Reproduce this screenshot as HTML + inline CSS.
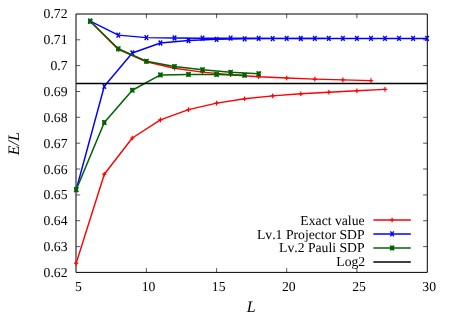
<!DOCTYPE html>
<html><head><meta charset="utf-8"><style>
html,body{margin:0;padding:0;background:#fff;}
svg{display:block;will-change:transform;opacity:0.999}
text{text-rendering:geometricPrecision;font-kerning:none}
.t{font-family:"Liberation Serif",serif;font-size:13.7px;fill:#000}
.i{font-style:italic;font-size:16px}
</style></head><body>
<svg width="452" height="317" viewBox="0 0 452 317">
<rect width="452" height="317" fill="#fff"/>
<path d="M76.2,246.6h4M427.1,246.6h-4" stroke="#000" stroke-width="0.66"/>
<path d="M76.2,220.7h4M427.1,220.7h-4" stroke="#000" stroke-width="0.66"/>
<path d="M76.2,194.9h4M427.1,194.9h-4" stroke="#000" stroke-width="0.66"/>
<path d="M76.2,169.0h4M427.1,169.0h-4" stroke="#000" stroke-width="0.66"/>
<path d="M76.2,143.2h4M427.1,143.2h-4" stroke="#000" stroke-width="0.66"/>
<path d="M76.2,117.3h4M427.1,117.3h-4" stroke="#000" stroke-width="0.66"/>
<path d="M76.2,91.5h4M427.1,91.5h-4" stroke="#000" stroke-width="0.66"/>
<path d="M76.2,65.6h4M427.1,65.6h-4" stroke="#000" stroke-width="0.66"/>
<path d="M76.2,39.8h4M427.1,39.8h-4" stroke="#000" stroke-width="0.66"/>
<path d="M146.4,272.4v-4.3M146.4,13.95v4.3" stroke="#000" stroke-width="0.66"/>
<path d="M216.6,272.4v-4.3M216.6,13.95v4.3" stroke="#000" stroke-width="0.66"/>
<path d="M286.7,272.4v-4.3M286.7,13.95v4.3" stroke="#000" stroke-width="0.66"/>
<path d="M356.9,272.4v-4.3M356.9,13.95v4.3" stroke="#000" stroke-width="0.66"/>
<path d="M76.0,14.0H427.3V272.4H76.0Z" fill="none" stroke="#000" stroke-width="1"/>
<polyline points="76.2,263.1 104.3,174.2 132.3,138.0 160.4,119.9 188.5,109.6 216.6,103.1 244.6,98.7 272.7,95.9 300.8,93.8 328.8,92.3 356.9,90.7 385.0,89.4" fill="none" stroke="#ff0000" stroke-width="1.45" stroke-linejoin="round"/>
<path d="M74.0,263.1H78.4M76.2,260.8V265.4" stroke="#ff0000" stroke-width="1.2"/><path d="M102.1,174.2H106.5M104.3,171.9V176.5" stroke="#ff0000" stroke-width="1.2"/><path d="M130.1,138.0H134.5M132.3,135.7V140.3" stroke="#ff0000" stroke-width="1.2"/><path d="M158.2,119.9H162.6M160.4,117.6V122.2" stroke="#ff0000" stroke-width="1.2"/><path d="M186.3,109.6H190.7M188.5,107.3V111.9" stroke="#ff0000" stroke-width="1.2"/><path d="M214.4,103.1H218.8M216.6,100.8V105.4" stroke="#ff0000" stroke-width="1.2"/><path d="M242.4,98.7H246.8M244.6,96.4V101.0" stroke="#ff0000" stroke-width="1.2"/><path d="M270.5,95.9H274.9M272.7,93.6V98.2" stroke="#ff0000" stroke-width="1.2"/><path d="M298.6,93.8H303.0M300.8,91.5V96.1" stroke="#ff0000" stroke-width="1.2"/><path d="M326.6,92.3H331.0M328.8,90.0V94.6" stroke="#ff0000" stroke-width="1.2"/><path d="M354.7,90.7H359.1M356.9,88.4V93.0" stroke="#ff0000" stroke-width="1.2"/><path d="M382.8,89.4H387.2M385.0,87.1V91.7" stroke="#ff0000" stroke-width="1.2"/>
<polyline points="90.2,21.2 118.3,49.4 146.4,61.8 174.5,68.2 202.5,72.1 230.6,74.7 258.7,76.8 286.7,78.0 314.8,79.1 342.9,79.9 371.0,80.6" fill="none" stroke="#ff0000" stroke-width="1.45" stroke-linejoin="round"/>
<path d="M88.0,21.2H92.4M90.2,18.9V23.5" stroke="#ff0000" stroke-width="1.2"/><path d="M116.1,49.4H120.5M118.3,47.1V51.7" stroke="#ff0000" stroke-width="1.2"/><path d="M144.2,61.8H148.6M146.4,59.5V64.1" stroke="#ff0000" stroke-width="1.2"/><path d="M172.3,68.2H176.7M174.5,65.9V70.5" stroke="#ff0000" stroke-width="1.2"/><path d="M200.3,72.1H204.7M202.5,69.8V74.4" stroke="#ff0000" stroke-width="1.2"/><path d="M228.4,74.7H232.8M230.6,72.4V77.0" stroke="#ff0000" stroke-width="1.2"/><path d="M256.5,76.8H260.9M258.7,74.5V79.1" stroke="#ff0000" stroke-width="1.2"/><path d="M284.5,78.0H288.9M286.7,75.7V80.3" stroke="#ff0000" stroke-width="1.2"/><path d="M312.6,79.1H317.0M314.8,76.8V81.4" stroke="#ff0000" stroke-width="1.2"/><path d="M340.7,79.9H345.1M342.9,77.6V82.2" stroke="#ff0000" stroke-width="1.2"/><path d="M368.8,80.6H373.2M371.0,78.3V82.9" stroke="#ff0000" stroke-width="1.2"/>
<polyline points="90.2,21.2 118.3,35.1 146.4,37.6 174.5,38.0 202.5,38.2 230.6,38.2 258.7,38.3 286.7,38.4 314.8,38.4 342.9,38.4 371.0,38.4 399.0,38.4 427.1,38.4" fill="none" stroke="#0000ff" stroke-width="1.45" stroke-linejoin="round"/>
<path d="M88.5,18.7L91.9,23.7M88.5,23.7L91.9,18.7" stroke="#0000ff" stroke-width="1.4"/><path d="M116.6,32.6L120.0,37.6M116.6,37.6L120.0,32.6" stroke="#0000ff" stroke-width="1.4"/><path d="M144.7,35.1L148.1,40.1M144.7,40.1L148.1,35.1" stroke="#0000ff" stroke-width="1.4"/><path d="M172.8,35.5L176.2,40.5M172.8,40.5L176.2,35.5" stroke="#0000ff" stroke-width="1.4"/><path d="M200.8,35.7L204.2,40.7M200.8,40.7L204.2,35.7" stroke="#0000ff" stroke-width="1.4"/><path d="M228.9,35.7L232.3,40.7M228.9,40.7L232.3,35.7" stroke="#0000ff" stroke-width="1.4"/><path d="M257.0,35.8L260.4,40.8M257.0,40.8L260.4,35.8" stroke="#0000ff" stroke-width="1.4"/><path d="M285.0,35.9L288.4,40.9M285.0,40.9L288.4,35.9" stroke="#0000ff" stroke-width="1.4"/><path d="M313.1,35.9L316.5,40.9M313.1,40.9L316.5,35.9" stroke="#0000ff" stroke-width="1.4"/><path d="M341.2,35.9L344.6,40.9M341.2,40.9L344.6,35.9" stroke="#0000ff" stroke-width="1.4"/><path d="M369.3,35.9L372.7,40.9M369.3,40.9L372.7,35.9" stroke="#0000ff" stroke-width="1.4"/><path d="M397.3,35.9L400.7,40.9M397.3,40.9L400.7,35.9" stroke="#0000ff" stroke-width="1.4"/><path d="M425.4,35.9L428.8,40.9M425.4,40.9L428.8,35.9" stroke="#0000ff" stroke-width="1.4"/>
<polyline points="76.2,189.7 104.3,86.3 132.3,53.0 160.4,43.0 188.5,40.5 216.6,39.3 244.6,38.9 272.7,38.6 300.8,38.5 328.8,38.4" fill="none" stroke="#0000ff" stroke-width="1.45" stroke-linejoin="round"/>
<path d="M74.5,187.2L77.9,192.2M74.5,192.2L77.9,187.2" stroke="#0000ff" stroke-width="1.4"/><path d="M102.6,83.8L106.0,88.8M102.6,88.8L106.0,83.8" stroke="#0000ff" stroke-width="1.4"/><path d="M130.6,50.5L134.0,55.5M130.6,55.5L134.0,50.5" stroke="#0000ff" stroke-width="1.4"/><path d="M158.7,40.5L162.1,45.5M158.7,45.5L162.1,40.5" stroke="#0000ff" stroke-width="1.4"/><path d="M186.8,38.0L190.2,43.0M186.8,43.0L190.2,38.0" stroke="#0000ff" stroke-width="1.4"/><path d="M214.9,36.8L218.3,41.8M214.9,41.8L218.3,36.8" stroke="#0000ff" stroke-width="1.4"/><path d="M242.9,36.4L246.3,41.4M242.9,41.4L246.3,36.4" stroke="#0000ff" stroke-width="1.4"/><path d="M271.0,36.1L274.4,41.1M271.0,41.1L274.4,36.1" stroke="#0000ff" stroke-width="1.4"/><path d="M299.1,36.0L302.5,41.0M299.1,41.0L302.5,36.0" stroke="#0000ff" stroke-width="1.4"/><path d="M327.1,35.9L330.5,40.9M327.1,40.9L330.5,35.9" stroke="#0000ff" stroke-width="1.4"/><path d="M355.2,35.9L358.6,40.9M355.2,40.9L358.6,35.9" stroke="#0000ff" stroke-width="1.4"/><path d="M383.3,35.9L386.7,40.9M383.3,40.9L386.7,35.9" stroke="#0000ff" stroke-width="1.4"/><path d="M411.4,35.9L414.8,40.9M411.4,40.9L414.8,35.9" stroke="#0000ff" stroke-width="1.4"/>
<polyline points="90.2,21.2 118.3,48.8 146.4,61.2 174.5,66.5 202.5,69.8 230.6,72.2 258.7,73.8" fill="none" stroke="#006400" stroke-width="1.55" stroke-linejoin="round"/>
<rect x="88.2" y="18.9" width="4.0" height="4.5" fill="#006400"/><rect x="116.3" y="46.6" width="4.0" height="4.5" fill="#006400"/><rect x="144.4" y="59.0" width="4.0" height="4.5" fill="#006400"/><rect x="172.5" y="64.3" width="4.0" height="4.5" fill="#006400"/><rect x="200.5" y="67.5" width="4.0" height="4.5" fill="#006400"/><rect x="228.6" y="70.0" width="4.0" height="4.5" fill="#006400"/><rect x="256.7" y="71.5" width="4.0" height="4.5" fill="#006400"/>
<path d="M88.1,18.8L92.3,23.6M88.1,23.6L92.3,18.8" stroke="#006400" stroke-width="1.2"/><path d="M116.2,46.4L120.4,51.2M116.2,51.2L120.4,46.4" stroke="#006400" stroke-width="1.2"/><path d="M144.3,58.8L148.5,63.6M144.3,63.6L148.5,58.8" stroke="#006400" stroke-width="1.2"/><path d="M172.4,64.1L176.6,68.9M172.4,68.9L176.6,64.1" stroke="#006400" stroke-width="1.2"/><path d="M200.4,67.4L204.6,72.2M200.4,72.2L204.6,67.4" stroke="#006400" stroke-width="1.2"/><path d="M228.5,69.8L232.7,74.6M228.5,74.6L232.7,69.8" stroke="#006400" stroke-width="1.2"/><path d="M256.6,71.4L260.8,76.2M256.6,76.2L260.8,71.4" stroke="#006400" stroke-width="1.2"/>
<polyline points="76.2,189.7 104.3,122.5 132.3,90.2 160.4,74.9 188.5,74.4 216.6,74.4 244.6,75.2" fill="none" stroke="#006400" stroke-width="1.55" stroke-linejoin="round"/>
<rect x="74.2" y="187.4" width="4.0" height="4.5" fill="#006400"/><rect x="102.3" y="120.2" width="4.0" height="4.5" fill="#006400"/><rect x="130.3" y="87.9" width="4.0" height="4.5" fill="#006400"/><rect x="158.4" y="72.7" width="4.0" height="4.5" fill="#006400"/><rect x="186.5" y="72.2" width="4.0" height="4.5" fill="#006400"/><rect x="214.6" y="72.2" width="4.0" height="4.5" fill="#006400"/><rect x="242.6" y="73.0" width="4.0" height="4.5" fill="#006400"/>
<path d="M74.1,187.3L78.3,192.1M74.1,192.1L78.3,187.3" stroke="#006400" stroke-width="1.2"/><path d="M102.2,120.1L106.4,124.9M102.2,124.9L106.4,120.1" stroke="#006400" stroke-width="1.2"/><path d="M130.2,87.8L134.4,92.6M130.2,92.6L134.4,87.8" stroke="#006400" stroke-width="1.2"/><path d="M158.3,72.5L162.5,77.3M158.3,77.3L162.5,72.5" stroke="#006400" stroke-width="1.2"/><path d="M186.4,72.0L190.6,76.8M186.4,76.8L190.6,72.0" stroke="#006400" stroke-width="1.2"/><path d="M214.5,72.0L218.7,76.8M214.5,76.8L218.7,72.0" stroke="#006400" stroke-width="1.2"/><path d="M242.5,72.8L246.7,77.6M242.5,77.6L246.7,72.8" stroke="#006400" stroke-width="1.2"/>
<path d="M76.2,83.5H427.1" stroke="#000" stroke-width="1.5"/>
<path d="M373.4,220.0H410.8" stroke="#ff0000" stroke-width="1.5"/>
<text x="364.6" y="224.7" text-anchor="end" class="t">Exact value</text>
<path d="M373.4,233.9H410.8" stroke="#0000ff" stroke-width="1.5"/>
<text x="364.6" y="238.6" text-anchor="end" class="t">Lv.1 Projector SDP</text>
<path d="M373.4,248.0H410.8" stroke="#006400" stroke-width="1.5"/>
<text x="364.6" y="252.4" text-anchor="end" class="t">Lv.2 Pauli SDP</text>
<path d="M373.4,261.9H410.8" stroke="#000" stroke-width="1.5"/>
<text x="365.2" y="266.3" text-anchor="end" class="t">Log2</text>
<path d="M389.9,220.0H394.3M392.1,217.7V222.3" stroke="#ff0000" stroke-width="1.2"/>
<path d="M390.4,231.4L393.8,236.4M390.4,236.4L393.8,231.4" stroke="#0000ff" stroke-width="1.4"/>
<rect x="390.1" y="245.7" width="4.0" height="4.5" fill="#006400"/><path d="M390.0,245.6L394.2,250.4M390.0,250.4L394.2,245.6" stroke="#006400" stroke-width="1.2"/>
<text x="67.5" y="276.9" text-anchor="end" class="t">0.62</text>
<text x="67.5" y="251.1" text-anchor="end" class="t">0.63</text>
<text x="67.5" y="225.2" text-anchor="end" class="t">0.64</text>
<text x="67.5" y="199.4" text-anchor="end" class="t">0.65</text>
<text x="67.5" y="173.5" text-anchor="end" class="t">0.66</text>
<text x="67.5" y="147.7" text-anchor="end" class="t">0.67</text>
<text x="67.5" y="121.8" text-anchor="end" class="t">0.68</text>
<text x="67.5" y="96.0" text-anchor="end" class="t">0.69</text>
<text x="67.5" y="70.1" text-anchor="end" class="t">0.7</text>
<text x="67.5" y="44.3" text-anchor="end" class="t">0.71</text>
<text x="67.5" y="18.4" text-anchor="end" class="t">0.72</text>
<text x="78.3" y="291" text-anchor="middle" class="t">5</text>
<text x="148.5" y="291" text-anchor="middle" class="t">10</text>
<text x="218.7" y="291" text-anchor="middle" class="t">15</text>
<text x="288.8" y="291" text-anchor="middle" class="t">20</text>
<text x="359.0" y="291" text-anchor="middle" class="t">25</text>
<text x="429.2" y="291" text-anchor="middle" class="t">30</text>
<text x="251.3" y="312.3" text-anchor="middle" class="t i">L</text>
<text transform="translate(18.8,143.6) rotate(-90)" text-anchor="middle" class="t i">E/L</text>
</svg></body></html>
